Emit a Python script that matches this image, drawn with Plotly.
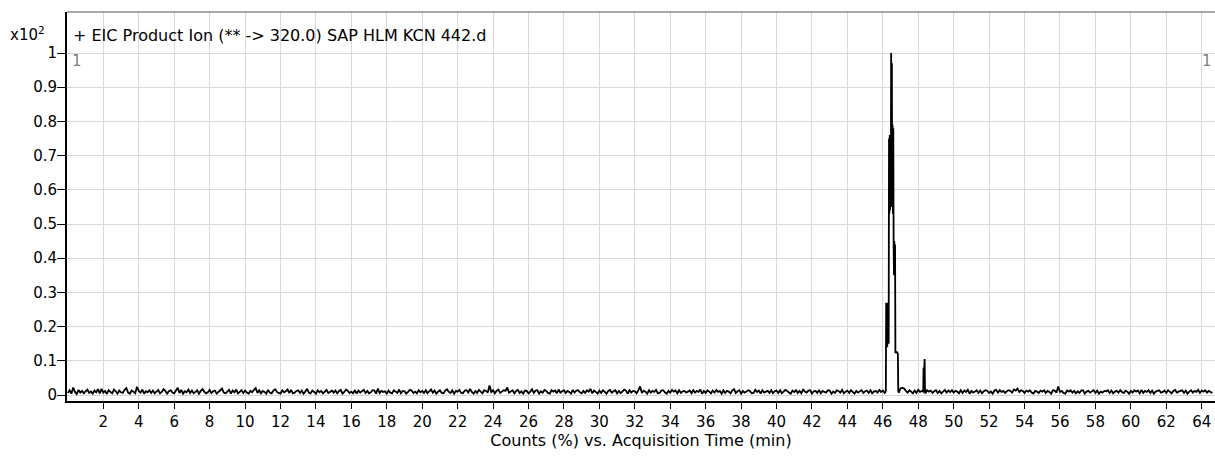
import numpy as np
import plotly.graph_objects as go

# ---------------- data ----------------
# baseline noise sampled every 0.1 min from 0.0 to 64.6 min (values in 1/1000 of axis unit, x10^2 %)
baseline_milli = [
    6,14,4,22,9,3,15,7,12,5, 11,16,6,10,4,13,8,17,5,18, 7,12,3,14,9,5,16,11,4,13, 8,6,15,20,7,4,13,10,5,24, 12,7,16,4,11,8,14,6,13,5,
    10,15,5,9,17,12,4,11,14,7, 5,13,21,6,15,4,11,8,16,6, 13,5,9,14,4,12,17,10,5,8, 15,6,11,13,4,9,14,19,7,5, 10,15,4,13,8,16,5,9,14,6,
    13,7,4,12,8,15,20,6,14,5, 12,9,4,15,7,5,13,17,9,6, 4,14,8,11,16,6,15,5,7,12, 14,6,13,4,10,18,7,5,13,9, 4,14,8,12,5,10,15,6,9,13,
    7,13,5,11,15,4,9,16,12,6, 10,5,14,4,13,7,11,15,6,12, 5,8,14,13,4,19,6,12,9,11, 4,13,7,5,14,10,6,16,5,12, 11,4,9,15,13,6,10,5,14,8,
    12,6,14,5,11,16,7,13,4,10, 14,6,5,13,17,9,6,14,4,12, 10,15,6,5,13,14,7,18,9,4, 12,6,15,10,5,14,12,7,28,9, 14,5,12,16,6,10,14,12,22,7,
    10,14,5,12,15,6,11,4,13,12, 5,10,17,6,13,14,4,11,7,15, 12,6,4,14,10,13,5,16,7,11, 14,6,12,9,4,15,7,13,14,8, 5,12,6,14,10,18,5,13,9,4,
    13,6,14,10,4,12,15,7,11,14, 5,12,6,10,16,13,4,14,7,12, 11,5,14,25,6,13,10,4,14,7, 12,9,15,5,6,13,14,8,4,12, 7,15,10,13,5,14,6,11,12,7,
    10,13,5,14,7,12,9,16,4,12, 6,14,10,5,13,7,15,9,12,4, 14,6,12,10,5,13,17,6,11,14, 4,12,7,10,14,12,5,6,15,9, 13,4,14,7,10,12,6,14,5,11,
    13,6,14,5,10,15,12,7,4,13, 9,14,6,12,5,16,10,7,13,14, 4,11,12,6,15,5,12,9,7,14, 13,4,10,6,14,12,7,15,5,10, 13,6,14,9,4,12,7,11,14,6,
    11,13,6,14,5,10,12,7,15,9, 13,6,4,14,10,12,6,11,5,7, 20,21,19,12,7,14,10,5,13,6, 15,9,12,7,4,14,10,13,6,11, 14,6,12,5,10,15,7,13,9,14,
    7,12,10,5,14,6,13,9,15,4, 12,7,10,14,6,13,5,11,14,12, 6,10,4,13,15,7,14,9,12,6, 11,14,12,7,16,13,19,9,14,12, 6,13,10,14,7,4,12,10,6,13,
    10,14,6,12,9,4,14,13,7,25, 9,12,6,4,13,10,14,7,12,5, 11,6,13,14,4,10,12,7,11,14, 6,13,4,10,7,12,11,14,6,13, 5,10,12,7,14,9,6,13,10,4,
    12,7,14,10,13,5,15,6,12,9, 14,6,13,4,10,12,14,7,9,13, 6,14,10,5,12,15,7,10,12,14, 6,13,4,10,14,7,12,9,15,6, 13,10,14,7,12,9,6,
]
baseline_start = 0.0
baseline_step = 0.1

# main peak (min, axis units)
peak_t = [46.14, 46.17, 46.19, 46.21, 46.23, 46.25, 46.27, 46.29, 46.31, 46.33,
          46.35, 46.37, 46.39, 46.41, 46.43, 46.45, 46.47, 46.49, 46.51, 46.53,
          46.55, 46.57, 46.59, 46.61, 46.63, 46.65, 46.67, 46.69, 46.71, 46.75,
          46.80, 46.85, 46.87]
peak_v = [0.008, 0.012, 0.27, 0.15, 0.26, 0.14, 0.27, 0.16, 0.25, 0.15,
          0.75, 0.53, 0.76, 0.54, 0.74, 0.55, 1.00, 0.78, 0.97, 0.55,
          0.79, 0.53, 0.78, 0.44, 0.35, 0.45, 0.36, 0.44, 0.125, 0.125,
          0.125, 0.12, 0.012]

# minor peak
minor_t = [48.28, 48.30, 48.32, 48.34, 48.36, 48.38]
minor_v = [0.010, 0.080, 0.040, 0.080, 0.105, 0.010]

x_ticks = list(range(2, 65, 2))
y_ticks = [0, 0.1, 0.2, 0.3, 0.4, 0.5, 0.6, 0.7, 0.8, 0.9, 1]
y_ticktext = ["0", "0.1", "0.2", "0.3", "0.4", "0.5", "0.6", "0.7", "0.8", "0.9", "1"]

title_text = "+ EIC Product Ion (** -> 320.0) SAP HLM KCN 442.d"
x_title = "Counts (%) vs. Acquisition Time (min)"

# ---------------- assemble ----------------
bt = baseline_start + baseline_step * np.arange(len(baseline_milli))
bv = np.array(baseline_milli) / 1000.0
mask = ~(((bt > peak_t[0] - 0.01) & (bt < peak_t[-1] + 0.01)) |
         ((bt > minor_t[0] - 0.01) & (bt < minor_t[-1] + 0.01)))
t_all = np.concatenate([bt[mask], peak_t, minor_t])
v_all = np.concatenate([bv[mask], peak_v, minor_v])
order = np.argsort(t_all, kind="stable")
t_all = t_all[order]
v_all = v_all[order]

# ---------------- figure ----------------
OFF = 0  # page body margin removed via post_script
W, H = 1215 - OFF, 457 - OFF
ML, MR, MT, MB = 67 - OFF, 0, 12 - OFF, 56
PW, PH = W - ML - MR, H - MT - MB
FONT = "DejaVu Sans"

def px_x(p):
    return (p - OFF - ML) / PW

def px_y(p):
    return (H - MB - (p - OFF)) / PH

fig = go.Figure()
fig.add_trace(go.Scatter(x=t_all, y=v_all, mode="lines",
                         line=dict(color="black", width=1.8, simplify=False),
                         hoverinfo="skip", showlegend=False))

fig.update_layout(
    width=W, height=H,
    margin=dict(l=ML, r=MR, t=MT, b=MB, pad=0),
    paper_bgcolor="white", plot_bgcolor="white",
    font=dict(family=FONT, size=15, color="black"),
    showlegend=False,
    xaxis=dict(range=[-0.05, 64.75], tickmode="array", tickvals=x_ticks,
               ticks="outside", ticklen=6, tickwidth=1, tickcolor="black",
               showline=True, linecolor="black", linewidth=2,
               showgrid=True, gridcolor="#d9d9d9", gridwidth=1, zeroline=False,
               tickfont=dict(family=FONT, size=15),
               title=dict(text=x_title, font=dict(family=FONT, size=16), standoff=4),
               automargin=False, fixedrange=True),
    yaxis=dict(range=[-0.0175, 1.12], tickmode="array", tickvals=y_ticks, ticktext=y_ticktext,
               ticks="outside", ticklen=8, tickwidth=1, tickcolor="black",
               showline=True, linecolor="black", linewidth=2,
               showgrid=True, gridcolor="#d9d9d9", gridwidth=1, zeroline=False,
               tickfont=dict(family=FONT, size=15), ticklabelstandoff=-3,
               automargin=False, fixedrange=True),
    shapes=[
        dict(type="rect", xref="paper", yref="y", x0=0, x1=1, y0=1.0025, y1=1.12,
             fillcolor="white", line=dict(width=0), layer="between"),
        dict(type="line", xref="paper", yref="paper", x0=0, x1=1, y0=1, y1=1,
             line=dict(color="#555555", width=1)),
    ],
    annotations=[
        dict(text=title_text, xref="paper", yref="paper", x=px_x(71), y=px_y(35),
             xanchor="left", yanchor="middle", showarrow=False,
             font=dict(family=FONT, size=16, color="black")),
        dict(text="x10<sup>2</sup>", xref="paper", yref="paper", x=px_x(47), y=px_y(34),
             xanchor="right", yanchor="middle", showarrow=False,
             font=dict(family=FONT, size=15, color="black")),
        dict(text="1", xref="paper", yref="paper", x=px_x(70), y=px_y(61),
             xanchor="left", yanchor="middle", showarrow=False,
             font=dict(family=FONT, size=15, color="#808080")),
        dict(text="1", xref="paper", yref="paper", x=px_x(1214), y=px_y(61),
             xanchor="right", yanchor="middle", showarrow=False,
             font=dict(family=FONT, size=15, color="#808080")),
    ],
)

fig.write_html(
    "out.html",
    config={"displayModeBar": False},
    post_script=("document.documentElement.style.margin='0';"
                 "document.body.style.margin='0';"
                 "document.documentElement.style.overflow='hidden';"
                 "document.body.style.overflow='hidden';"),
)
